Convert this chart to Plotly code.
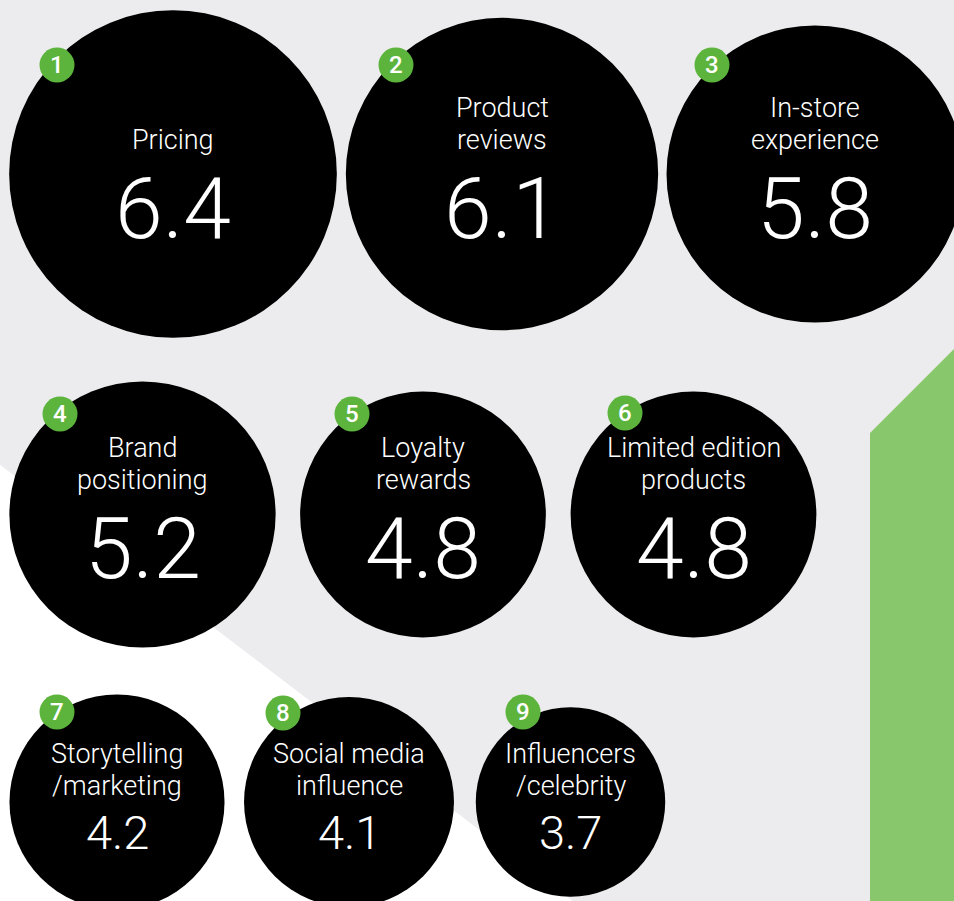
import plotly.graph_objects as go

# ---------------- data ----------------
ranks = ["1", "2", "3", "4", "5", "6", "7", "8", "9"]
labels = [
    "Pricing",
    "Product<br>reviews",
    "In-store<br>experience",
    "Brand<br>positioning",
    "Loyalty<br>rewards",
    "Limited edition<br>products",
    "Storytelling<br>/marketing",
    "Social media<br>influence",
    "Influencers<br>/celebrity",
]
values = [6.4, 6.1, 5.8, 5.2, 4.8, 4.8, 4.2, 4.1, 3.7]

# ---------------- layout (pixel space) ----------------
W, H = 954, 901
R_PER_UNIT = 25.6  # circle radius in px per unit of value

centers_x = [173, 502, 815, 142.5, 423, 693.5, 117, 349, 570.5]
centers_y = [174, 174, 174, 514.5, 514.5, 514.5, 802, 802, 802]
badge_x = [57, 396, 712, 60, 352, 625, 57, 283, 523]
badge_y = [65, 65, 65, 414, 414, 413, 712, 713, 712]
label_last_y = [140, 140, 140, 480, 480, 480, 786, 786, 786]
value_y = [208, 208, 208, 548, 548, 548, 832, 832, 832]
value_size = [86, 86, 86, 86, 86, 86, 47, 47, 47]

BG = "#ECECEE"
GREEN_BADGE = "#5DB43C"
GREEN_BLOCK = "#88C76C"
FONT = "Roboto"

shapes = []
# white lower-left triangle
shapes.append(dict(type="path", xref="x", yref="y", layer="below",
                   path="M -5,461 L 578,905 L -5,905 Z",
                   fillcolor="#FFFFFF", line=dict(width=0)))
# green block on the right
shapes.append(dict(type="path", xref="x", yref="y", layer="below",
                   path="M 870,433 L 954,349 L 960,349 L 960,905 L 870,905 Z",
                   fillcolor=GREEN_BLOCK, line=dict(width=0)))

# main circles
for cx, cy, v in zip(centers_x, centers_y, values):
    r = R_PER_UNIT * v
    shapes.append(dict(type="circle", xref="x", yref="y", layer="above",
                       x0=cx - r, x1=cx + r, y0=cy - r, y1=cy + r,
                       fillcolor="#000000", line=dict(width=0)))
# badges
BR = 17.5
for bx, by in zip(badge_x, badge_y):
    shapes.append(dict(type="circle", xref="x", yref="y", layer="above",
                       x0=bx - BR, x1=bx + BR, y0=by - BR, y1=by + BR,
                       fillcolor=GREEN_BADGE, line=dict(width=0)))

annotations = []
LINE = 32
for i in range(len(values)):
    lines = labels[i].split("<br>")
    n = len(lines)
    for j, t in enumerate(lines):
        annotations.append(dict(
            x=centers_x[i], y=label_last_y[i] - (n - 1 - j) * LINE,
            xref="x", yref="y", text=t, showarrow=False,
            xanchor="center", yanchor="middle",
            font=dict(family=FONT, size=27, color="#FFFFFF", weight=300)))
    annotations.append(dict(
        x=centers_x[i], y=value_y[i], xref="x", yref="y",
        text=f"{values[i]:.1f}", showarrow=False,
        xanchor="center", yanchor="middle",
        font=dict(family=FONT, size=value_size[i], color="#FFFFFF", weight=300)))
    annotations.append(dict(
        x=badge_x[i], y=badge_y[i], xref="x", yref="y",
        text=ranks[i], showarrow=False,
        xanchor="center", yanchor="middle",
        font=dict(family=FONT, size=24, color="#FFFFFF", weight=500)))

fig = go.Figure()
fig.add_trace(go.Scatter(x=[0, W], y=[0, H], mode="markers",
                         marker=dict(opacity=0), hoverinfo="skip", showlegend=False))
fig.update_layout(
    width=W, height=H,
    margin=dict(l=0, r=0, t=0, b=0),
    paper_bgcolor=BG, plot_bgcolor=BG,
    xaxis=dict(range=[0, W], visible=False, fixedrange=True),
    yaxis=dict(range=[H, 0], visible=False, fixedrange=True),
    shapes=shapes, annotations=annotations,
    showlegend=False,
)
fig.write_html(
    "out.html",
    config={"displayModeBar": False},
    post_script="document.body.style.margin='0';document.body.style.padding='0';"
                "document.body.style.overflow='hidden';",
)
